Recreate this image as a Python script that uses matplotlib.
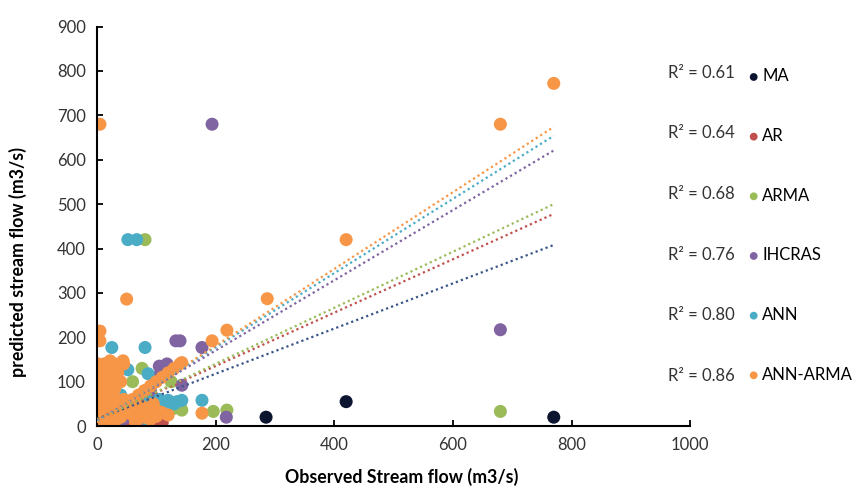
#!/usr/bin/env python3
import matplotlib
matplotlib.use("Agg")
import numpy as np
import matplotlib.pyplot as plt

plt.rcParams['font.family'] = ['Lato', 'DejaVu Sans']

models = ['MA', 'AR', 'ARMA', 'IHCRAS', 'ANN', 'ANN-ARMA']
colors = ['#0c1530', '#c0504d', '#9bbb59', '#8064a2', '#4bacc6', '#f79646']
line_colors = ['#3a5688', '#c0504d', '#9bbb59', '#8064a2', '#4bacc6', '#f79646']
r2_vals = [0.61, 0.64, 0.68, 0.76, 0.80, 0.86]

# trendline values read at observed = 0 and observed = 770
trend_x = [0, 770]
trend_start = [16, 15, 14, 12, 10, 8]
trend_end = [408, 478, 500, 621, 654, 674]

# observed / predicted per model (m3/s)
ma_obs = [770, 420, 285, 5, 10, 20, 30, 40, 60, 80, 100]
ma_pred = [20, 55, 20, 10, 15, 12, 18, 10, 15, 12, 8]

ar_obs = [5, 15, 25, 35, 45, 55, 65, 75, 85, 95, 105, 110, 60, 90]
ar_pred = [5, 8, 5, 10, 6, 8, 5, 7, 4, 6, 5, 8, 3, 2]

arma_obs = [81, 680, 219, 196, 143, 76, 60, 100, 120, 130, 50, 30, 20, 40, 90,
            110, 125, 140]
arma_pred = [420, 33, 36, 33, 36, 130, 100, 60, 40, 40, 50, 80, 60, 35, 30,
             45, 100, 45]

ihcras_obs = [194, 680, 218, 177, 140, 133, 118, 143, 100, 110, 90, 70, 60, 80,
              50, 40, 125, 105, 85]
ihcras_pred = [680, 217, 20, 177, 192, 192, 140, 92, 110, 120, 80, 60, 40, 5,
               20, 10, 130, 135, 3]

ann_obs = [52, 67, 25, 81, 177, 143, 86, 52, 25, 90, 100, 110, 120, 130, 70, 60,
           40, 30, 20, 10, 80, 95, 105, 115, 135, 70, 85]
ann_pred = [420, 420, 177, 177, 58, 58, 118, 127, 125, 55, 52, 55, 58, 50, 60,
            45, 70, 90, 110, 40, 30, 45, 60, 48, 55, 20, 15]

annarma_obs = [770, 680, 420, 287, 219, 194, 143, 5, 50, 5, 5, 177,
               10, 20, 30, 40, 50, 60, 70, 80, 90, 100, 110, 120, 130, 140,
               2, 2, 2, 2, 2, 2, 2, 8, 12, 15, 18, 20, 25, 28, 30, 35, 40,
               45, 10, 10, 12, 6, 20, 25, 22, 44,
               8, 8, 8, 8, 14, 14, 14, 22, 22, 22, 30, 30, 35, 38,
               20, 40, 60, 80, 100, 110, 120, 70, 50, 90, 10, 30, 65, 85, 105,
               15, 35, 55, 75, 95, 45, 25, 65]
annarma_pred = [772, 680, 420, 287, 216, 192, 143, 680, 286, 214, 192, 29,
                10, 20, 30, 40, 50, 60, 70, 80, 90, 100, 110, 120, 130, 140,
                20, 40, 60, 80, 100, 120, 140, 130, 140, 110, 90, 130, 70, 50,
                140, 120, 100, 140, 100, 70, 50, 30, 40, 100, 147, 147,
                15, 45, 85, 115, 25, 65, 95, 10, 60, 115, 20, 85, 60, 30,
                15, 20, 25, 20, 22, 30, 25, 35, 30, 15, 5, 10, 18, 28, 32,
                35, 38, 40, 45, 50, 60, 5, 8]

obs_all = [ma_obs, ar_obs, arma_obs, ihcras_obs, ann_obs, annarma_obs]
pred_all = [ma_pred, ar_pred, arma_pred, ihcras_pred, ann_pred, annarma_pred]

fig = plt.figure(figsize=(8.66, 4.92), dpi=100)
ax = fig.add_axes([0.112, 0.134, 0.685, 0.812])

for name, c, xo, yp in zip(models, colors, obs_all, pred_all):
    ax.scatter(xo, yp, s=88, color=c, edgecolors='none', label=name, zorder=2)

for c, y0, y1 in zip(line_colors, trend_start, trend_end):
    ax.plot(trend_x, [y0, y1], color=c, lw=1.6, linestyle=(0, (1, 1.4)), zorder=3)

ax.set_xlim(0, 1000)
ax.set_ylim(0, 900)
ax.set_xticks(np.arange(0, 1001, 200))
ax.set_yticks(np.arange(0, 901, 100))
for s in ['top', 'right']:
    ax.spines[s].set_visible(False)
for s in ['left', 'bottom']:
    ax.spines[s].set_linewidth(1.5)
    ax.spines[s].set_color('black')
ax.tick_params(direction='in', length=4, width=1.3, labelsize=12,
               labelcolor='#333333', pad=8)
ax.set_xlabel('Observed Stream flow (m3/s)', fontsize=12.8, fontweight='bold')
ax.set_ylabel('predicted stream flow (m3/s)', fontsize=12.8, fontweight='bold')
ax.xaxis.set_label_coords(0.513, -0.105)
ax.yaxis.set_label_coords(-0.118, 0.41)

# legend with R² values
row_top = 0.852
row_step = 0.1233
leg = ax.legend(loc='upper left', bbox_to_anchor=(0.853, 0.878),
                bbox_transform=fig.transFigure, frameon=False,
                fontsize=12, markerscale=0.6, handletextpad=0.1,
                handlelength=0.8, labelspacing=2.62, borderpad=0)
for i, r2 in enumerate(r2_vals):
    fig.text(0.848, row_top - i * row_step, f'R² = {r2:.2f}', fontsize=12,
             ha='right', va='center', color='#333333')

fig.savefig('out.png', dpi=100)
